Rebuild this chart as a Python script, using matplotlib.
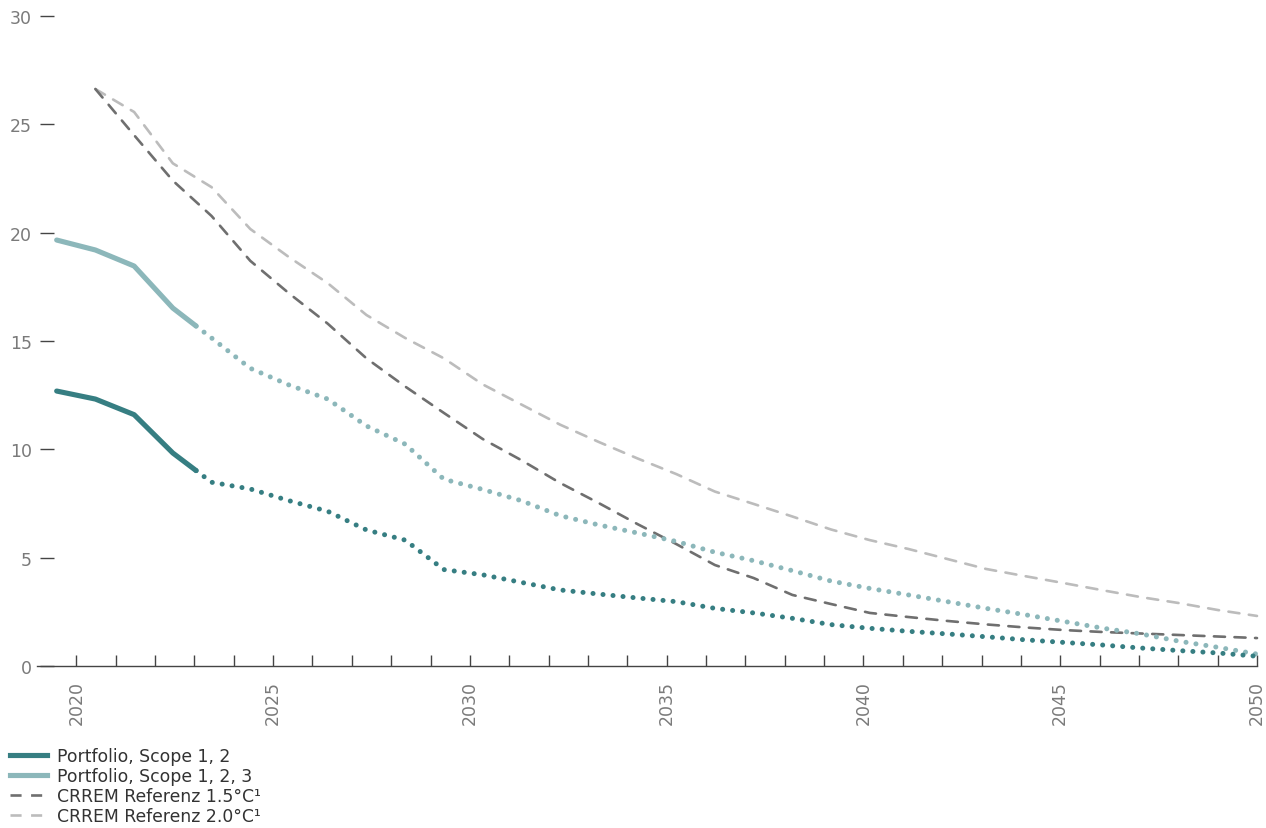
import matplotlib
matplotlib.use("Agg")
import matplotlib.pyplot as plt
from matplotlib.lines import Line2D
import numpy as np

plt.rcParams.update({
    "font.family": "DejaVu Sans",
    "font.size": 12,
})

# data (one value per year, 2019-2050)
years = np.arange(2019, 2051)
scope_12 = [12.69, 12.32, 11.60, 9.83, 8.48, 8.17, 7.63, 7.14, 6.28, 5.81,
            4.45, 4.21, 3.86, 3.51, 3.32, 3.14, 2.97, 2.66, 2.45, 2.20,
            1.91, 1.74, 1.60, 1.48, 1.35, 1.21, 1.09, 0.97, 0.83, 0.71,
            0.60, 0.45]
scope_123 = [19.66, 19.20, 18.46, 16.52, 15.14, 13.74, 12.97, 12.32, 11.08, 10.24,
             8.62, 8.15, 7.63, 6.94, 6.51, 6.14, 5.75, 5.25, 4.86, 4.40,
             3.92, 3.58, 3.28, 2.97, 2.66, 2.37, 2.06, 1.75, 1.48, 1.14,
             0.86, 0.55]
crrem_15 = [np.nan, 26.63, 24.50, 22.40, 20.77, 18.70, 17.20, 15.80, 14.20, 12.90,
            11.68, 10.48, 9.50, 8.45, 7.52, 6.55, 5.63, 4.66, 4.06, 3.28,
            2.86, 2.45, 2.26, 2.08, 1.92, 1.78, 1.66, 1.57, 1.50, 1.43,
            1.36, 1.29]
crrem_20 = [np.nan, 26.63, 25.57, 23.20, 22.10, 20.17, 18.87, 17.67, 16.20, 15.14,
            14.20, 13.00, 12.07, 11.14, 10.34, 9.58, 8.86, 8.05, 7.48, 6.90,
            6.30, 5.81, 5.40, 4.94, 4.48, 4.15, 3.83, 3.50, 3.18, 2.90,
            2.58, 2.31]
labels = ["Portfolio, Scope 1, 2", "Portfolio, Scope 1, 2, 3",
          "CRREM Referenz 1.5°C¹", "CRREM Referenz 2.0°C¹"]

DARK_TEAL = "#367e82"
LIGHT_TEAL = "#8cb7ba"
DARK_GREY = "#6f6f6f"
LIGHT_GREY = "#bcbcbc"

# points sit slightly off the yearly ticks in the original
x_pos = 2019.5 + (years - 2019) * 30.5 / 31
split = 3.6  # actuals end part way into the 2022-2023 segment

fig = plt.figure(figsize=(12.66, 8.29), dpi=100)
ax = fig.add_axes([37 / 1266, 1 - 667 / 829, 1220 / 1266, 650 / 829])

dash_kw = dict(dash_capstyle="round", clip_on=False)
ax.plot(x_pos, crrem_20, color=LIGHT_GREY, lw=1.9, dashes=(4.2, 3.6), **dash_kw)
ax.plot(x_pos, crrem_15, color=DARK_GREY, lw=1.9, dashes=(4.2, 3.6), **dash_kw)

idx = np.arange(len(years))
for vals, col in [(scope_123, LIGHT_TEAL), (scope_12, DARK_TEAL)]:
    vals = np.asarray(vals)
    xs = np.interp(split, idx, x_pos)
    ys = np.interp(split, idx, vals)
    n = int(np.floor(split)) + 1
    ax.plot(np.r_[x_pos[:n], xs], np.r_[vals[:n], ys], color=col, lw=3.7,
            solid_capstyle="round", solid_joinstyle="round")
    ax.plot(np.r_[xs, x_pos[n:]], np.r_[ys, vals[n:]], color=col, lw=3.6,
            linestyle=(0, (0.01, 2.0)), dash_capstyle="round", clip_on=False)

ax.set_xlim(2019, 2050)
ax.set_ylim(0, 30)

for side in ["top", "right", "left"]:
    ax.spines[side].set_visible(False)
ax.spines["bottom"].set_color("#444444")
ax.spines["bottom"].set_linewidth(1.0)
ax.spines["left"].set_position(("outward", -2.2))

tick_years = np.arange(2020, 2051)
ax.set_xticks(tick_years)
ax.set_xticklabels([str(y) if y % 5 == 0 else "" for y in tick_years],
                   rotation=90)
ax.tick_params(axis="x", direction="in", length=8, width=1.0, color="#444444",
               pad=10, labelsize=12.5, labelcolor="#7a7a7a")

ax.set_yticks(np.arange(0, 31, 5))
ax.tick_params(axis="y", direction="in", length=10, width=1.0, color="#444444",
               pad=5.8, labelsize=12.5, labelcolor="#7a7a7a")

handles = [
    Line2D([], [], color=DARK_TEAL, lw=3.7),
    Line2D([], [], color=LIGHT_TEAL, lw=3.7),
    Line2D([], [], color=DARK_GREY, lw=1.9, dashes=(4.2, 3.6)),
    Line2D([], [], color=LIGHT_GREY, lw=1.9, dashes=(4.2, 3.6)),
]
leg = fig.legend(handles, labels, loc="upper left", bbox_to_anchor=(0.008, 0.098),
                 frameon=False, fontsize=12.4, handlelength=2.15, handletextpad=0.6,
                 labelspacing=0.13, borderpad=0, borderaxespad=0)
for t in leg.get_texts():
    t.set_color("#333333")

fig.savefig("out.png", dpi=100)
